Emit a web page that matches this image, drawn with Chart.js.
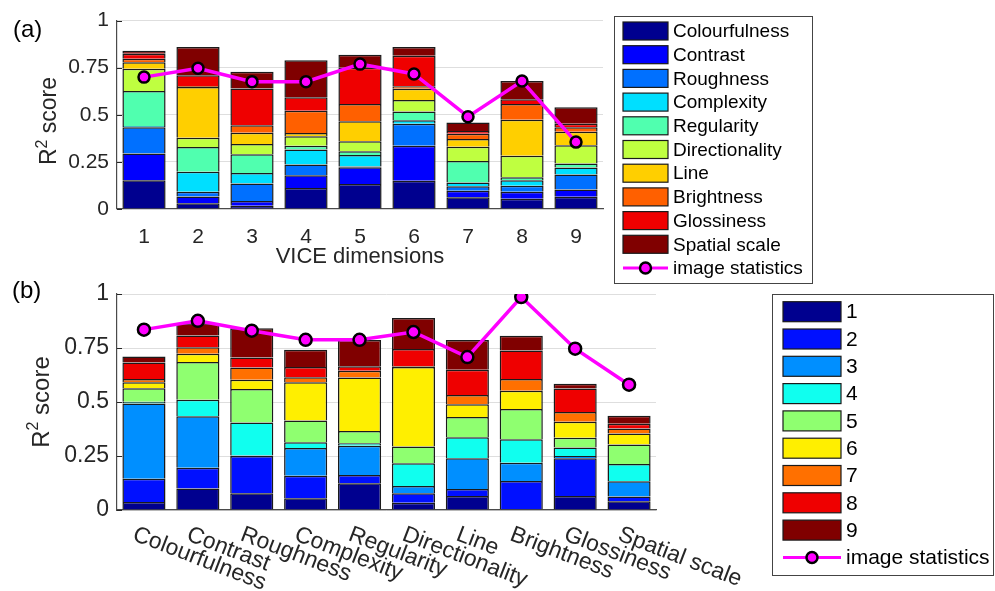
<!DOCTYPE html>
<html>
<head>
<meta charset="utf-8">
<title>R² score by VICE dimension</title>
<script src="https://cdn.jsdelivr.net/npm/chart.js@4.4.1/dist/chart.umd.min.js"></script>
<style>
  html, body { margin: 0; padding: 0; background: #fff; }
  #wrap { position: relative; width: 995px; height: 591px; }
  #wrap canvas { position: absolute; left: 0; top: 0; }
</style>
</head>
<body>
<div id="wrap">
  <canvas id="chartA" width="995" height="591"></canvas>
  <canvas id="chartB" width="995" height="591"></canvas>
</div>
<script>
// ---------- categories and labels ----------
const viceDimensions = ['Colourfulness', 'Contrast', 'Roughness', 'Complexity', 'Regularity',
                        'Directionality', 'Line', 'Brightness', 'Glossiness', 'Spatial scale'];
const componentLabels = ['1', '2', '3', '4', '5', '6', '7', '8', '9'];
const yTickValues = [0, 0.25, 0.5, 0.75, 1];

// ---------- (a) contribution of each VICE dimension, per dimension 1..9 ----------
const colourfulness  = [0.152, 0.031, 0.017, 0.112, 0.133, 0.150, 0.062, 0.055, 0.065];
const contrast       = [0.143, 0.035, 0.026, 0.067, 0.088, 0.186, 0.035, 0.036, 0.038];
const roughness      = [0.139, 0.025, 0.093, 0.057, 0.004, 0.116, 0.024, 0.033, 0.080];
const complexity     = [0.007, 0.107, 0.055, 0.080, 0.061, 0.019, 0.019, 0.028, 0.037];
const regularity     = [0.185, 0.131, 0.099, 0.020, 0.021, 0.046, 0.115, 0.017, 0.021];
const directionality = [0.119, 0.049, 0.055, 0.050, 0.052, 0.062, 0.076, 0.114, 0.097];
const line           = [0.034, 0.270, 0.060, 0.017, 0.107, 0.059, 0.040, 0.191, 0.072];
const brightness     = [0.018, 0.005, 0.040, 0.118, 0.091, 0.014, 0.029, 0.083, 0.024];
const glossiness     = [0.027, 0.057, 0.195, 0.072, 0.193, 0.162, 0.014, 0.026, 0.018];
const spatialScale   = [0.016, 0.150, 0.089, 0.197, 0.069, 0.046, 0.045, 0.096, 0.088];
const imageStatsA    = [0.700, 0.747, 0.676, 0.676, 0.769, 0.717, 0.490, 0.679, 0.355];

// ---------- (b) contribution of dimensions 1..9, per VICE rating ----------
const dim1 = [0.037, 0.100, 0.077, 0.054, 0.124, 0.034, 0.065, 0.003, 0.065, 0.040];
const dim2 = [0.108, 0.096, 0.173, 0.104, 0.038, 0.043, 0.032, 0.131, 0.175, 0.022];
const dim3 = [0.348, 0.238, 0.002, 0.129, 0.135, 0.034, 0.143, 0.085, 0.010, 0.071];
const dim4 = [0.008, 0.076, 0.153, 0.027, 0.012, 0.105, 0.097, 0.109, 0.039, 0.080];
const dim5 = [0.063, 0.175, 0.155, 0.100, 0.057, 0.078, 0.093, 0.140, 0.045, 0.090];
const dim6 = [0.028, 0.038, 0.043, 0.178, 0.248, 0.368, 0.060, 0.084, 0.074, 0.051];
const dim7 = [0.014, 0.030, 0.057, 0.023, 0.031, 0.003, 0.042, 0.054, 0.046, 0.023];
const dim8 = [0.077, 0.055, 0.046, 0.047, 0.020, 0.080, 0.117, 0.133, 0.109, 0.022];
const dim9 = [0.028, 0.057, 0.135, 0.080, 0.122, 0.144, 0.138, 0.068, 0.021, 0.037];
const imageStatsB = [0.835, 0.876, 0.830, 0.788, 0.788, 0.824, 0.708, 0.986, 0.747, 0.580];

// jet colormap samples
const colorsA = ['#00008f', '#0000ff', '#0070ff', '#00dfff', '#50ffaf',
                 '#bfff40', '#ffcf00', '#ff6000', '#ef0000', '#800000'];
const colorsB = ['#00008f', '#0010ff', '#008fff', '#10ffef', '#8fff70',
                 '#ffef00', '#ff7000', '#ef0000', '#800000'];

const FONT = "'Liberation Sans', Arial, Helvetica, sans-serif";
const AXIS_COLOR = '#262626';

function barSet(label, data, color) {
  return {
    label, data,
    backgroundColor: color,
    borderColor: '#1a1a1a',
    borderWidth: 1.5,
    borderSkipped: 'start',
    stack: 'parts',
    order: 1,
    barPercentage: 0.8,
    categoryPercentage: 1.0
  };
}

function statsSet(data, r) {
  return {
    type: 'line',
    label: 'image statistics',
    data,
    borderColor: '#ff00ff',
    borderWidth: 3.5,
    pointRadius: r,
    pointBackgroundColor: '#ff00ff',
    pointBorderColor: '#000000',
    pointBorderWidth: 2.5,
    tension: 0,
    stack: 'stats',
    order: 0
  };
}

// "R² score" with a raised superscript
function drawYTitle(ctx, cx, cy, size) {
  ctx.save();
  ctx.translate(cx, cy);
  ctx.rotate(-Math.PI / 2);
  ctx.fillStyle = AXIS_COLOR;
  ctx.textBaseline = 'middle';
  ctx.textAlign = 'left';
  const big = size + 'px ' + FONT, small = Math.round(size * 0.68) + 'px ' + FONT;
  ctx.font = big; const wR = ctx.measureText('R').width; const wS = ctx.measureText(' score').width;
  ctx.font = small; const w2 = ctx.measureText('2').width;
  let x = -(wR + w2 + wS) / 2;
  ctx.font = big; ctx.fillText('R', x, 0); x += wR;
  ctx.font = small; ctx.fillText('2', x, -size * 0.33); x += w2;
  ctx.font = big; ctx.fillText(' score', x, 0);
  ctx.restore();
}

function drawInwardTicks(chart) {
  const ctx = chart.ctx, y = chart.scales.y, left = chart.chartArea.left;
  ctx.save();
  ctx.strokeStyle = AXIS_COLOR;
  ctx.lineWidth = 1;
  yTickValues.forEach(v => {
    const py = Math.round(y.getPixelForValue(v)) + 0.5;
    ctx.beginPath(); ctx.moveTo(left, py); ctx.lineTo(left + 5, py); ctx.stroke();
  });
  ctx.restore();
}

// boxed legend listing every dataset (bars first, then the line)
function drawLegend(chart, L) {
  const ctx = chart.ctx;
  const sets = chart.data.datasets;
  const bars = sets.filter(d => d.type !== 'line');
  const lines = sets.filter(d => d.type === 'line');
  ctx.save();
  ctx.fillStyle = '#fff';
  ctx.fillRect(L.x, L.y, L.w, L.h);
  ctx.strokeStyle = '#444';
  ctx.lineWidth = 1;
  ctx.strokeRect(L.x + 0.5, L.y + 0.5, L.w, L.h);
  ctx.font = L.font + 'px ' + FONT;
  ctx.textBaseline = 'middle';
  ctx.textAlign = 'left';
  let i = 0;
  bars.forEach(d => {
    const cy = L.row0 + i * L.step;
    ctx.fillStyle = d.backgroundColor;
    ctx.fillRect(L.sx, cy - L.sh / 2, L.sw, L.sh);
    ctx.strokeStyle = '#1a1a1a';
    ctx.lineWidth = 1.2;
    ctx.strokeRect(L.sx, cy - L.sh / 2, L.sw, L.sh);
    ctx.fillStyle = '#000';
    ctx.fillText(d.label, L.tx, cy + 1);
    i++;
  });
  lines.forEach(d => {
    const cy = L.row0 + i * L.step;
    ctx.strokeStyle = d.borderColor;
    ctx.lineWidth = 3;
    ctx.beginPath(); ctx.moveTo(L.sx, cy); ctx.lineTo(L.sx + L.sw, cy); ctx.stroke();
    ctx.beginPath(); ctx.arc(L.sx + L.sw / 2, cy, 5.5, 0, Math.PI * 2);
    ctx.fillStyle = d.pointBackgroundColor; ctx.fill();
    ctx.lineWidth = 2.5; ctx.strokeStyle = '#000'; ctx.stroke();
    ctx.fillStyle = '#000';
    ctx.fillText(d.label, L.tx, cy + 1);
    i++;
  });
  ctx.restore();
}

function panelLetter(ctx, text, x, y) {
  ctx.save();
  ctx.font = '24px ' + FONT;
  ctx.fillStyle = '#000';
  ctx.textBaseline = 'middle';
  ctx.textAlign = 'left';
  ctx.fillText(text, x, y);
  ctx.restore();
}

function yScale(fontSize) {
  return {
    stacked: true,
    min: 0, max: 1,
    afterBuildTicks: s => { s.ticks = yTickValues.map(v => ({ value: v })); },
    ticks: { font: { family: FONT, size: fontSize }, color: AXIS_COLOR, padding: 8,
             callback: v => String(v) },
    grid: { color: '#dedede', lineWidth: 1, drawTicks: false },
    border: { display: true, color: '#4a4a4a', width: 1.2 },
    afterFit: s => { s.width = 117; }
  };
}

// ---------- panel (a) ----------
const seriesA = [colourfulness, contrast, roughness, complexity, regularity,
                 directionality, line, brightness, glossiness, spatialScale];

new Chart(document.getElementById('chartA'), {
  type: 'bar',
  data: {
    labels: componentLabels,
    datasets: seriesA.map((d, k) => barSet(viceDimensions[k], d, colorsA[k]))
      .concat([statsSet(imageStatsA, 5.5)])
  },
  options: {
    responsive: false,
    animation: false,
    layout: { padding: { left: 0, top: 16, right: 392, bottom: 301 } },
    plugins: { legend: { display: false }, tooltip: { enabled: false } },
    scales: {
      x: {
        stacked: true,
        grid: { display: false },
        border: { display: true, color: '#4a4a4a', width: 1.2 },
        ticks: { font: { family: FONT, size: 21 }, color: AXIS_COLOR, padding: 8 },
        title: { display: true, text: 'VICE dimensions', color: AXIS_COLOR,
                 font: { family: FONT, size: 22 }, padding: { top: 0, bottom: 20 } },
        afterFit: s => { s.height = 81; }
      },
      y: yScale(21)
    }
  },
  plugins: [{
    id: 'panelA',
    afterDraw(chart) {
      drawInwardTicks(chart);
      drawYTitle(chart.ctx, 50, 121, 23);
      panelLetter(chart.ctx, '(a)', 13, 30);
      drawLegend(chart, { x: 614, y: 16, w: 198, h: 267, row0: 31, step: 23.7,
                          sx: 623, sw: 45, sh: 18, tx: 673, font: 19 });
    }
  }]
});

// ---------- panel (b) ----------
const seriesB = [dim1, dim2, dim3, dim4, dim5, dim6, dim7, dim8, dim9];

new Chart(document.getElementById('chartB'), {
  type: 'bar',
  data: {
    labels: viceDimensions,
    datasets: seriesB.map((d, k) => barSet(componentLabels[k], d, colorsB[k]))
      .concat([statsSet(imageStatsB, 6)])
  },
  options: {
    responsive: false,
    animation: false,
    layout: { padding: { left: 0, top: 294, right: 339, bottom: 0 } },
    plugins: { legend: { display: false }, tooltip: { enabled: false } },
    scales: {
      x: {
        stacked: true,
        grid: { display: false },
        border: { display: true, color: '#4a4a4a', width: 1.2 },
        ticks: { display: false },
        afterFit: s => { s.height = 81; }
      },
      y: yScale(23)
    }
  },
  plugins: [{
    id: 'panelB',
    afterDraw(chart) {
      const ctx = chart.ctx, x = chart.scales.x;
      drawInwardTicks(chart);
      // slanted category labels hanging from each tick
      ctx.save();
      ctx.font = '23px ' + FONT;
      ctx.fillStyle = AXIS_COLOR;
      ctx.textAlign = 'left';
      ctx.textBaseline = 'top';
      chart.data.labels.forEach((lab, i) => {
        const px = x.getPixelForValue(i);
        ctx.save();
        ctx.translate(px - 6, chart.chartArea.bottom + 13);
        ctx.rotate(21 * Math.PI / 180);
        ctx.fillText(lab, 0, 0);
        ctx.restore();
      });
      ctx.restore();
      drawYTitle(ctx, 42, 402, 24);
      panelLetter(ctx, '(b)', 12, 291);
      drawLegend(chart, { x: 772, y: 294, w: 221, h: 281, row0: 311.7, step: 27.3,
                          sx: 783, sw: 58, sh: 20, tx: 846, font: 21 });
    }
  }]
});
</script>
</body>
</html>
